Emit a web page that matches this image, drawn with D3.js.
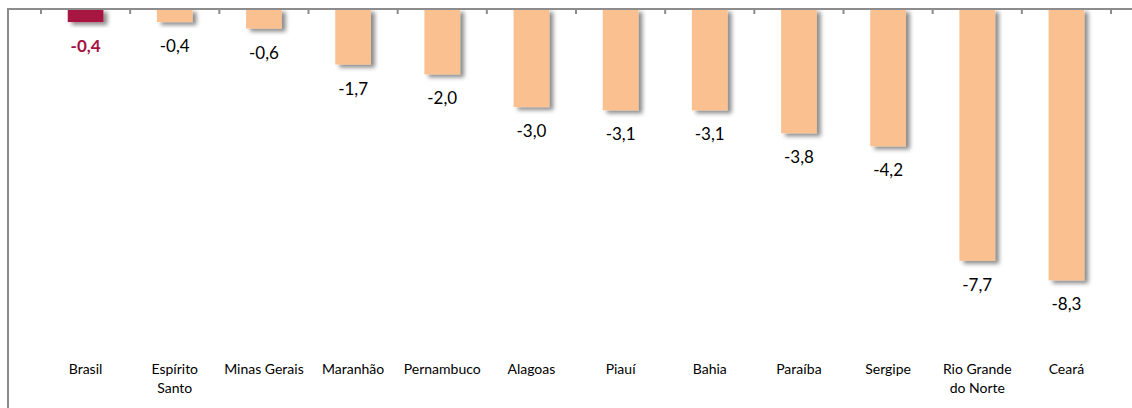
<!DOCTYPE html>
<html><head><meta charset="utf-8">
<script src="https://cdn.jsdelivr.net/npm/d3@7"></script>
<style>html,body{margin:0;padding:0;background:#fff;}svg{display:block;}</style>
</head><body>
<svg id="chart" width="1132" height="408"></svg>
<script>
const categories = [["Brasil"],["Espírito","Santo"],["Minas Gerais"],["Maranhão"],["Pernambuco"],["Alagoas"],["Piauí"],["Bahia"],["Paraíba"],["Sergipe"],["Rio Grande","do Norte"],["Ceará"]];
const values = [-0.4,-0.4,-0.6,-1.7,-2.0,-3.0,-3.1,-3.1,-3.8,-4.2,-7.7,-8.3];
const labels = ["-0,4","-0,4","-0,6","-1,7","-2,0","-3,0","-3,1","-3,1","-3,8","-4,2","-7,7","-8,3"];

const svg = d3.select("#chart");
const defs = svg.append("defs");
const f = defs.append("filter").attr("id","shadow").attr("x","-20%").attr("y","-20%").attr("width","160%").attr("height","160%");
f.append("feDropShadow").attr("dx",4).attr("dy",3).attr("stdDeviation",2.2).attr("flood-color","#000").attr("flood-opacity",0.45);

const keys = categories.map((c,i)=>i);
const x = d3.scaleBand().domain(keys).range([41,1111]).paddingInner(0.6).paddingOuter(0.3);
const y = d3.scaleLinear().domain([-9,0]).range([9+9*32.7,9]);

svg.append("g").selectAll("rect").data(values).join("rect")
  .attr("x",(d,i)=>x(i))
  .attr("width",x.bandwidth())
  .attr("y",y(0))
  .attr("height",d=>y(d)-y(0))
  .attr("fill",(d,i)=>i===0?"#A6123F":"#FAC090")
  .attr("filter","url(#shadow)");

// axes
const xAxis = d3.axisTop(x).tickSize(0).tickFormat("");
svg.append("line").attr("x1",8).attr("x2",1132).attr("y1",9).attr("y2",9).attr("stroke","#8c8c8c").attr("stroke-width",2);
svg.append("line").attr("x1",8).attr("x2",8).attr("y1",8).attr("y2",408).attr("stroke","#8c8c8c").attr("stroke-width",2);
const step = x.step();
const bounds = d3.range(13).map(i=>41+i*(1111-41)/12);
svg.append("g").selectAll("line").data(bounds).join("line")
  .attr("x1",d=>d).attr("x2",d=>d).attr("y1",9).attr("y2",14)
  .attr("stroke","#8c8c8c").attr("stroke-width",2);

// value labels
svg.append("g").selectAll("text").data(values).join("text")
  .attr("x",(d,i)=>x(i)+x.bandwidth()/2)
  .attr("y",d=>y(d)+30)
  .attr("text-anchor","middle")
  .attr("font-family","Lato, 'Open Sans', sans-serif")
  .attr("font-size",17)
  .attr("font-weight",(d,i)=>i===0?"bold":"normal")
  .attr("fill",(d,i)=>i===0?"#A6123F":"#000")
  .text((d,i)=>labels[i]);

// category labels
const cg = svg.append("g");
categories.forEach((lines,i)=>{
  const t = cg.append("text")
    .attr("x",x(i)+x.bandwidth()/2)
    .attr("y",374)
    .attr("text-anchor","middle")
    .attr("font-family","Lato, 'Open Sans', sans-serif")
    .attr("font-size",14)
    .attr("fill","#000");
  lines.forEach((l,j)=>t.append("tspan").attr("x",x(i)+x.bandwidth()/2).attr("dy",j===0?0:19).text(l));
});
</script>
</body></html>
